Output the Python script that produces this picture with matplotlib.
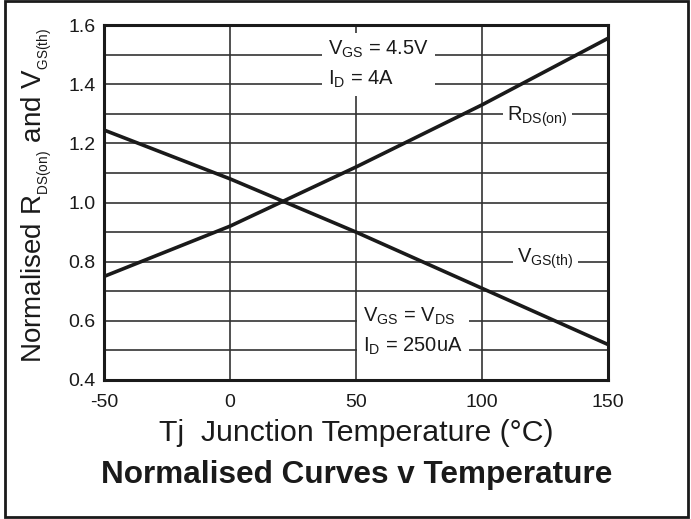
import numpy as np
import matplotlib.pyplot as plt
from matplotlib.patches import Rectangle

# values
temps = [-50, 0, 50, 100, 150]
rds_on = [0.75, 0.92, 1.12, 1.33, 1.555]
vgs_th = [1.245, 1.08, 0.90, 0.71, 0.52]

x_ticks = [-50, 0, 50, 100, 150]
y_ticks = [0.4, 0.6, 0.8, 1.0, 1.2, 1.4, 1.6]
y_minor = [0.5, 0.7, 0.9, 1.1, 1.3, 1.5]

plt.rcParams['font.family'] = ['Liberation Sans', 'DejaVu Sans']
plt.rcParams['mathtext.default'] = 'regular'
plt.rcParams['axes.unicode_minus'] = False

ink = '#1a1a1a'

fig = plt.figure(figsize=(6.91, 5.19), dpi=100)
ax = fig.add_axes([104/691, 1 - 380/519, 504/691, 355/519])

# curves
ax.plot(temps, rds_on, color=ink, lw=2.6, zorder=3)
ax.plot(temps, vgs_th, color=ink, lw=2.6, zorder=3)

ax.set_xlim(-50, 150)
ax.set_ylim(0.4, 1.6)
ax.set_xticks(x_ticks)
ax.set_xticklabels([str(t) for t in x_ticks])
ax.set_yticks(y_ticks)
ax.set_yticklabels(['%.1f' % v for v in y_ticks])
ax.set_yticks(y_minor, minor=True)
ax.tick_params(which='both', length=0, labelcolor=ink)
ax.tick_params(axis='x', labelsize=14, pad=10)
ax.tick_params(axis='y', labelsize=14, pad=6)
ax.grid(True, which='both', color='#333333', lw=1.2)
ax.set_axisbelow(True)
for s in ax.spines.values():
    s.set_linewidth(2.2)
    s.set_color(ink)

# condition / curve labels, white box hides the grid behind them
box = dict(facecolor='white', edgecolor='none', boxstyle='square,pad=0.3')
ax.text(38.9, 1.5525, 'V$_{GS}$ = 4.5V\nI$_D$ = 4A', fontsize=14.5, color=ink,
        ha='left', va='top', linespacing=1.5, bbox=box, zorder=4)
ax.text(52.8, 0.65, 'V$_{GS}$ = V$_{DS}$\nI$_D$ = 250uA', fontsize=14.5, color=ink,
        ha='left', va='top', linespacing=1.5, bbox=box, zorder=4)

box2 = dict(facecolor='white', edgecolor='none', boxstyle='square,pad=0.2')
ax.text(110, 1.275, 'R$_{DS(on)}$', fontsize=14.5, color=ink,
        ha='left', va='baseline', bbox=box2, zorder=4)
ax.text(114, 0.797, 'V$_{GS(th)}$', fontsize=14.5, color=ink,
        ha='left', va='baseline', bbox=box2, zorder=4)

ax.set_ylabel('Normalised R$_{_{DS(on)}}$ and V$_{_{GS(th)}}$', fontsize=20, color=ink)
ax.yaxis.set_label_coords(-0.10, 0.52)
ax.set_xlabel('Tj  Junction Temperature (°C)', fontsize=21.8, color=ink)
ax.xaxis.set_label_coords(0.5, -0.11)

fig.text(357/691, 1 - 483/519, 'Normalised Curves v Temperature', fontsize=22.7,
         fontweight='bold', color=ink, ha='center', va='baseline')

# outer frame of the datasheet figure
fig.add_artist(Rectangle((5/691, 2/519), 683/691, 516/519, transform=fig.transFigure,
                         fill=False, lw=2, ec=ink))

fig.savefig('out.png', dpi=100)
